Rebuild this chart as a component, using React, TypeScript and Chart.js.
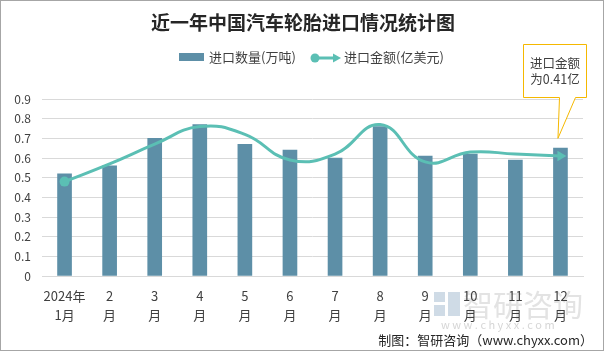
import React, { useEffect, useRef } from "react";
import { Chart, registerables } from "chart.js";
Chart.register(...registerables);

const chartTitle = "近一年中国汽车轮胎进口情况统计图";
const seriesNames = ["进口数量(万吨)", "进口金额(亿美元)"];
const xTickLabels = [
  ["2024年", "1月"], ["2", "月"], ["3", "月"], ["4", "月"], ["5", "月"], ["6", "月"],
  ["7", "月"], ["8", "月"], ["9", "月"], ["10", "月"], ["11", "月"], ["12", "月"],
];
const importVolume = [0.52, 0.56, 0.70, 0.77, 0.67, 0.64, 0.60, 0.76, 0.61, 0.62, 0.59, 0.65];
const importValue = [0.48, 0.57, 0.67, 0.76, 0.72, 0.59, 0.62, 0.77, 0.58, 0.63, 0.62, 0.61];
const yMin = 0;
const yMax = 0.9;
const yStep = 0.1;
const calloutLines = ["进口金额", "为0.41亿"];
const calloutAnchorValue = 0.7;
const footerText = "制图：智研咨询（www.chyxx.com）";
const watermarkName = "智研咨询";
const watermarkUrl = "w w w . c h y x x . c o m";

const FONT = "'Noto Sans CJK SC', 'Noto Sans', sans-serif";
const BAR_COLOR = "#5d8fa7";
const LINE_COLOR = "#5bbfb4";
const TEXT_COLOR = "#404040";

const decorPlugin = {
  id: "decor",
  beforeDraw(chart: any) {
    const ctx = chart.ctx;
    ctx.save();
    // watermark
    ctx.fillStyle = "#cfdbe6";
    ctx.fillRect(434, 292, 11, 10);
    ctx.fillRect(448, 292, 12, 24);
    ctx.fillRect(434, 305, 11, 11);
    ctx.fillStyle = "#e3e3e3";
    ctx.font = `30px ${FONT}`;
    ctx.textBaseline = "middle";
    ctx.textAlign = "left";
    ctx.fillText(watermarkName, 463, 305);
    ctx.font = `11px ${FONT}`;
    ctx.fillStyle = "#d6d6d6";
    ctx.fillText(watermarkUrl, 441, 325);
    ctx.restore();
  },
  afterDraw(chart: any) {
    const ctx = chart.ctx;
    ctx.save();
    // border
    ctx.strokeStyle = "#a6a6a6";
    ctx.lineWidth = 1;
    ctx.strokeRect(0.5, 0.5, 603, 350);
    // title
    ctx.fillStyle = "#262626";
    ctx.font = `bold 19px ${FONT}`;
    ctx.textAlign = "center";
    ctx.textBaseline = "middle";
    ctx.fillText(chartTitle, 303, 23);
    // legend
    ctx.font = `13px ${FONT}`;
    ctx.textAlign = "left";
    ctx.fillStyle = BAR_COLOR;
    ctx.fillRect(179, 53, 25, 8);
    ctx.fillStyle = TEXT_COLOR;
    ctx.fillText(seriesNames[0], 209, 57);
    ctx.strokeStyle = LINE_COLOR;
    ctx.lineWidth = 3;
    ctx.beginPath();
    ctx.moveTo(315, 58);
    ctx.lineTo(336, 58);
    ctx.stroke();
    ctx.fillStyle = LINE_COLOR;
    ctx.beginPath();
    ctx.arc(315, 58, 4.5, 0, Math.PI * 2);
    ctx.fill();
    ctx.beginPath();
    ctx.moveTo(341, 58);
    ctx.lineTo(333, 53.5);
    ctx.lineTo(333, 62.5);
    ctx.closePath();
    ctx.fill();
    ctx.fillStyle = TEXT_COLOR;
    ctx.fillText(seriesNames[1], 344, 57);
    // callout
    const xs = chart.scales.x;
    const ys = chart.scales.y;
    const tipX = xs.getPixelForValue(importValue.length - 1) - 3;
    const tipY = ys.getPixelForValue(calloutAnchorValue);
    const bl = 523, br = 586, bt = 44, bb = 97;
    ctx.beginPath();
    ctx.moveTo(bl + 0.5, bt + 0.5);
    ctx.lineTo(br + 0.5, bt + 0.5);
    ctx.lineTo(br + 0.5, bb + 0.5);
    ctx.lineTo(575.5, bb + 0.5);
    ctx.lineTo(tipX + 0.5, tipY);
    ctx.lineTo(559.5, bb + 0.5);
    ctx.lineTo(bl + 0.5, bb + 0.5);
    ctx.closePath();
    ctx.fillStyle = "#ffffff";
    ctx.fill();
    ctx.strokeStyle = "#f5b800";
    ctx.lineWidth = 1;
    ctx.stroke();
    ctx.fillStyle = TEXT_COLOR;
    ctx.font = `12.5px ${FONT}`;
    ctx.textAlign = "center";
    ctx.fillText(calloutLines[0], 555, 63);
    ctx.fillText(calloutLines[1], 555, 79);
    // footer
    ctx.textAlign = "right";
    ctx.font = `13px ${FONT}`;
    ctx.fillStyle = "#262626";
    ctx.fillText(footerText, 593, 340);
    ctx.restore();
  },
};

export default function App() {
  const ref = useRef<HTMLCanvasElement | null>(null);
  useEffect(() => {
    document.body.style.margin = "0";
    const n = importValue.length;
    const chart = new Chart(ref.current as HTMLCanvasElement, {
      type: "bar",
      data: {
        labels: xTickLabels as any,
        datasets: [
          {
            type: "line",
            label: seriesNames[1],
            data: importValue,
            borderColor: LINE_COLOR,
            backgroundColor: LINE_COLOR,
            borderWidth: 3,
            tension: 0.45,
            pointRadius: importValue.map((_, i) => (i === 0 ? 5 : i === n - 1 ? 6 : 0)),
            pointStyle: importValue.map((_, i) => (i === n - 1 ? "triangle" : "circle")) as any,
            pointRotation: importValue.map((_, i) => (i === n - 1 ? 90 : 0)),
            pointBorderWidth: 0,
            order: 0,
          } as any,
          {
            type: "bar",
            label: seriesNames[0],
            data: importVolume,
            backgroundColor: BAR_COLOR,
            barThickness: 14,
            order: 1,
          },
        ],
      },
      options: {
        animation: false,
        responsive: false,
        layout: { padding: { left: 0, top: 99, right: 21, bottom: 0 } },
        plugins: { legend: { display: false }, tooltip: { enabled: false }, title: { display: false } },
        scales: {
          x: {
            grid: { display: false, drawTicks: false },
            border: { display: true, color: "#d9d9d9" },
            ticks: {
              color: TEXT_COLOR,
              font: { family: FONT, size: 13, lineHeight: 1.42 },
              padding: 11,
              maxRotation: 0,
              autoSkip: false,
            },
            afterFit: (s: any) => { s.height = 75; },
          },
          y: {
            min: yMin,
            max: yMax,
            grid: { color: "#d9d9d9", drawTicks: false },
            border: { display: false },
            ticks: {
              stepSize: yStep,
              color: TEXT_COLOR,
              padding: 11,
              font: { family: FONT, size: 12 },
              callback: (v: any) => (Number(v) === 0 ? "0" : Number(v).toFixed(1)),
            },
            afterFit: (s: any) => { s.width = 42; },
          },
        },
      },
      plugins: [decorPlugin],
    });
    return () => chart.destroy();
  }, []);
  return (
    <div style={{ width: 604, height: 351 }}>
      <canvas ref={ref} width={604} height={351} style={{ display: "block" }} />
    </div>
  );
}
